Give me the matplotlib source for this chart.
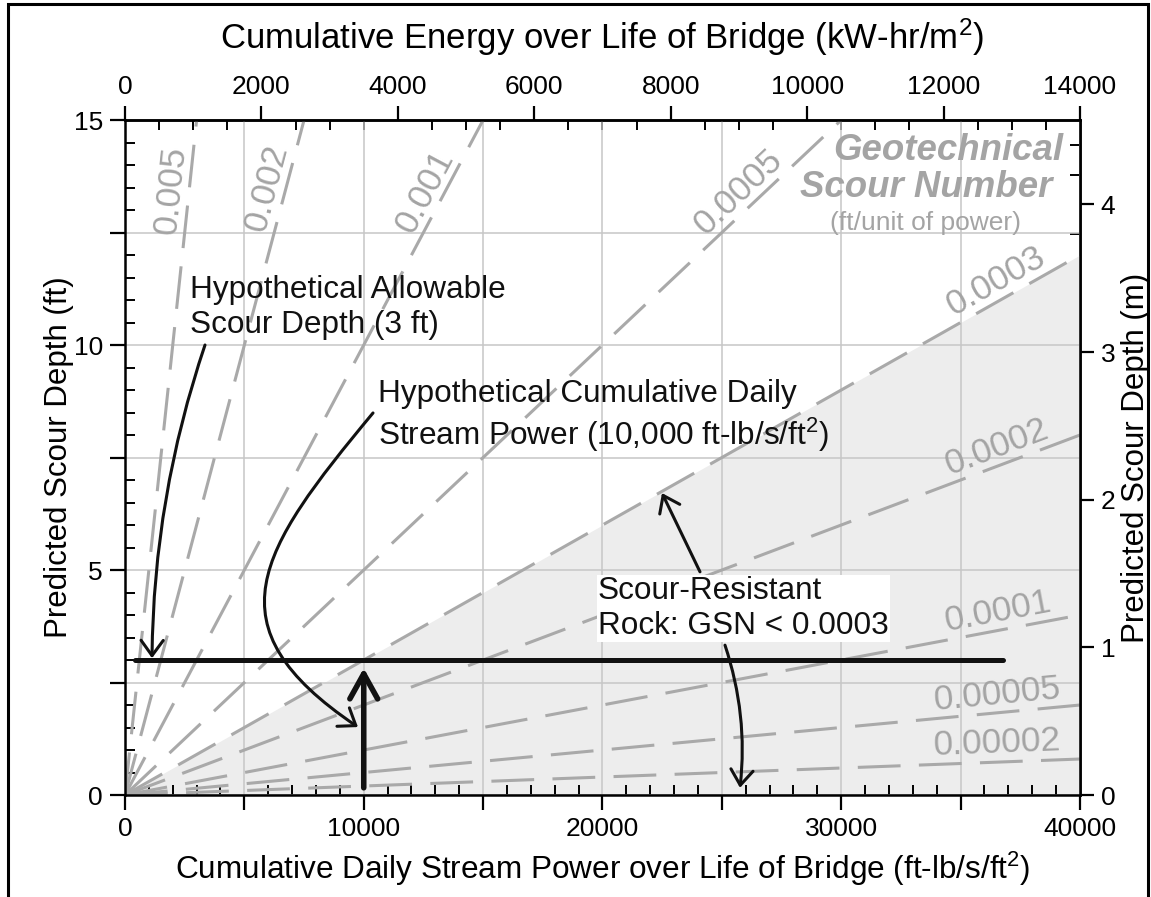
import numpy as np
import matplotlib.pyplot as plt
from matplotlib.ticker import MultipleLocator, FuncFormatter
from matplotlib.patches import Rectangle, FancyArrowPatch
from matplotlib.path import Path

plt.rcParams['font.family'] = 'Liberation Sans'
plt.rcParams['mathtext.fontset'] = 'custom'
plt.rcParams['mathtext.rm'] = 'Liberation Sans'
plt.rcParams['mathtext.it'] = 'Liberation Sans:italic'

# geotechnical scour numbers (ft of scour per unit of cumulative stream power)
gsn_values = [0.005, 0.002, 0.001, 0.0005, 0.0003, 0.0002, 0.0001, 0.00005, 0.00002]
gsn_labels = ['0.005', '0.002', '0.001', '0.0005', '0.0003', '0.0002', '0.0001', '0.00005', '0.00002']
# stream power at which each number is written along its line
label_power = [2680, 6690, 13230, 26220, 36860, 36780, 36700, 36620, 36560]

rock_limit = 0.0003       # GSN below this = scour-resistant rock
allowable_depth = 3.0     # ft
design_power = 10000      # ft-lb/s/ft^2
power_max = 40000
depth_max = 15
energy_max = 14000        # kW-hr/m^2 equivalent of power_max
ft_per_m = 3.2808

LINE_GREY = '#a9a9a9'
TEXT_GREY = '#a4a4a4'
INK = '#111111'

fig = plt.figure(figsize=(11.51, 8.97), dpi=100)
ax = fig.add_axes([0.1086, 0.1137, 0.8297, 0.7525])
ax.set_xlim(0, power_max)
ax.set_ylim(0, depth_max)

# shaded zone of scour-resistant rock
power = np.array([0, power_max])
ax.fill_between(power, 0, rock_limit * power, color='#ededed', lw=0, zorder=1)

for g in gsn_values:
    ax.plot(power, g * power, color=LINE_GREY, lw=2.2, ls=(0, (14, 6)),
            dash_capstyle='butt', zorder=2)

for g, txt, xp in zip(gsn_values, gsn_labels, label_power):
    p0 = ax.transData.transform((0, 0))
    p1 = ax.transData.transform((xp, g * xp))
    ang = np.arctan2(p1[1] - p0[1], p1[0] - p0[0])
    off = 6.5
    ax.annotate(txt, (xp, g * xp), xytext=(-off * np.sin(ang), off * np.cos(ang)),
                textcoords='offset points', rotation=np.degrees(ang),
                rotation_mode='anchor', ha='center', va='baseline',
                fontsize=25.5, color=TEXT_GREY, zorder=3)

ax.text(34470, 14.33, 'Geotechnical', ha='center', va='center', fontsize=26.4,
        fontweight='bold', fontstyle='italic', color=TEXT_GREY)
ax.text(33550, 13.51, 'Scour Number', ha='center', va='center', fontsize=26.4,
        fontweight='bold', fontstyle='italic', color=TEXT_GREY)
ax.text(33550, 12.71, '(ft/unit of power)', ha='center', va='center', fontsize=19,
        color=TEXT_GREY)

# allowable scour depth
ax.plot([420, 36780], [allowable_depth, allowable_depth], color=INK, lw=3.6,
        solid_capstyle='round', zorder=4)
# design stream power
ax.annotate('', xy=(design_power, 2.82), xytext=(design_power, 0.16),
            arrowprops=dict(arrowstyle='->,head_length=0.9,head_width=0.5',
                            lw=4, color=INK, mutation_scale=20,
                            shrinkA=0, shrinkB=0), zorder=4)

note_kw = dict(fontsize=22.7, color=INK, ha='left', va='center', zorder=5)
ax.text(2720, 10.83, 'Hypothetical Allowable\nScour Depth (3 ft)', **note_kw)
ax.text(10600, 8.41, 'Hypothetical Cumulative Daily\nStream Power (10,000 ft-lb/s/ft$^2$)',
        **note_kw)
ax.text(19810, 4.14, 'Scour-Resistant\nRock: GSN < 0.0003',
        bbox=dict(facecolor='white', edgecolor='none', pad=1), **note_kw)

head = '->,head_length=0.55,head_width=0.4'
arrow_kw = dict(arrowstyle=head, lw=2.2, color=INK, mutation_scale=20,
                shrinkA=0, shrinkB=0)
curves = [((3351, 10.0), (1131, 3.04), 0.08),
          ((25131, 3.33), (25759, 0.16), -0.11),
          ((24084, 4.96), (22492, 6.71), 0.0)]
for start, tip, rad in curves:
    ax.annotate('', xy=tip, xytext=start, zorder=6,
                arrowprops=dict(connectionstyle=f'arc3,rad={rad}', **arrow_kw))

# looping pointer from the stream-power note down to the design arrow
loop = Path([(10388, 8.49), (5562, 5.41), (3502, 3.75), (9759, 1.51)],
            [Path.MOVETO, Path.CURVE4, Path.CURVE4, Path.CURVE4])
ax.add_patch(FancyArrowPatch(path=loop, arrowstyle=head, lw=2.2, color=INK,
                             mutation_scale=20, zorder=6))

# main axes ticks and grid
ax.xaxis.set_major_locator(MultipleLocator(5000))
ax.xaxis.set_minor_locator(MultipleLocator(1000))
ax.xaxis.set_major_formatter(FuncFormatter(lambda v, p: f'{v:.0f}' if v % 10000 == 0 else ''))
ax.yaxis.set_major_locator(MultipleLocator(2.5))
ax.yaxis.set_minor_locator(MultipleLocator(0.5))
ax.yaxis.set_major_formatter(FuncFormatter(lambda v, p: f'{v:.0f}' if v % 5 == 0 else ''))
ax.tick_params(which='major', direction='out', length=11, width=1.6, labelsize=19, pad=5)
ax.tick_params(which='minor', direction='in', length=7, width=1.4)
ax.grid(True, which='major', color='#c6c6c6', lw=1.1)
ax.set_axisbelow('line')
for s in ax.spines.values():
    s.set_linewidth(1.8)

ax.set_xlabel('Cumulative Daily Stream Power over Life of Bridge (ft-lb/s/ft$^2$)',
              fontsize=22.7, labelpad=6)
ax.set_ylabel('Predicted Scour Depth (ft)', fontsize=22.5, labelpad=0)

top = ax.secondary_xaxis('top', functions=(lambda p: p * energy_max / power_max,
                                           lambda e: e * power_max / energy_max))
top.set_xticks(np.arange(0, energy_max + 1, 2000))
top.set_xticks(np.arange(0, energy_max + 1, 500), minor=True)
top.tick_params(which='major', direction='out', length=10, width=1.6, labelsize=19, pad=5)
top.tick_params(which='minor', direction='in', length=7, width=1.4)
top.set_xlabel('Cumulative Energy over Life of Bridge (kW-hr/m$^2$)', fontsize=25,
               labelpad=19)

right = ax.secondary_yaxis('right', functions=(lambda f: f / ft_per_m,
                                               lambda m: m * ft_per_m))
right.set_yticks(np.arange(0, 5, 1))
right.set_yticks(np.arange(0, 4.6, 0.2), minor=True)
right.tick_params(which='major', direction='out', length=10, width=1.6, labelsize=19, pad=5)
right.tick_params(which='minor', direction='in', length=7, width=1.4)
right.set_ylabel('Predicted Scour Depth (m)', fontsize=22.5, labelpad=4)
for sec in (top, right):
    for s in sec.spines.values():
        s.set_linewidth(1.8)

# page frame, open at the bottom
fig.patches.append(Rectangle((8 / 1151, -0.1), 1140 / 1151, 1.1 - 4 / 897,
                             transform=fig.transFigure, fill=False, lw=2.2,
                             edgecolor='black'))

fig.savefig('out.png', dpi=100)
